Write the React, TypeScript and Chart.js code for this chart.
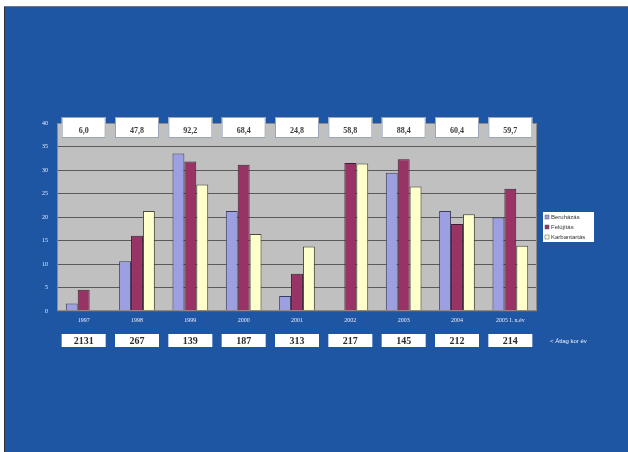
import React, { useEffect, useRef } from "react";
import { Chart, registerables } from "chart.js";

Chart.register(...registerables);

const categories = ["1997", "1998", "1999", "2000", "2001", "2002", "2003", "2004", "2005 I. n.év"];
const beruhazas = [1.6, 10.6, 33.5, 21.3, 3.2, 0, 29.4, 21.3, 19.9];
const felujitas = [4.5, 16.0, 31.8, 31.1, 7.9, 31.5, 32.3, 18.5, 26.0];
const karbantartas = [0, 21.3, 26.9, 16.4, 13.7, 31.4, 26.5, 20.6, 13.9];
const topLabels = ["6,0", "47,8", "92,2", "68,4", "24,8", "58,8", "88,4", "60,4", "59,7"];
const bottomLabels = ["2131", "267", "139", "187", "313", "217", "145", "212", "214"];
const seriesNames = ["Beruházás", "Felújítás", "Karbantartás"];
const sideLabel = "< Átlag kor év";

const W = 628;
const H = 452;

export default function App() {
  const ref = useRef<HTMLCanvasElement | null>(null);

  useEffect(() => {
    if (!ref.current) return;
    const deco = {
      id: "deco",
      beforeDraw(chart: any) {
        const ctx = chart.ctx;
        ctx.save();
        ctx.fillStyle = "#ffffff";
        ctx.fillRect(0, 0, W, H);
        ctx.fillStyle = "#1f56a4";
        ctx.fillRect(4, 6, W - 4, H - 6);
        ctx.strokeStyle = "#2a2f3a";
        ctx.lineWidth = 1;
        ctx.beginPath();
        ctx.moveTo(4.5, 6);
        ctx.lineTo(4.5, H);
        ctx.stroke();
        ctx.strokeStyle = "#6b7686";
        ctx.beginPath();
        ctx.moveTo(4, 6.5);
        ctx.lineTo(W, 6.5);
        ctx.stroke();
        const a = chart.chartArea;
        ctx.fillStyle = "#c0c0c0";
        ctx.fillRect(a.left, a.top, a.right - a.left, a.bottom - a.top);
        ctx.restore();
      },
      afterDraw(chart: any) {
        const ctx = chart.ctx;
        const a = chart.chartArea;
        const xs = chart.scales.x;
        ctx.save();
        ctx.strokeStyle = "#8a8a8a";
        ctx.lineWidth = 1;
        ctx.strokeRect(a.left + 0.5, a.top + 0.5, a.right - a.left - 1, a.bottom - a.top - 1);
        ctx.textAlign = "center";
        ctx.textBaseline = "middle";
        topLabels.forEach((t, i) => {
          const x = xs.getPixelForValue(i);
          ctx.fillStyle = "#ffffff";
          ctx.fillRect(x - 22, 117, 44, 21);
          ctx.strokeStyle = "#9aa6b8";
          ctx.strokeRect(x - 21.5, 117.5, 43, 20);
          ctx.fillStyle = "#3a3a3a";
          ctx.font = "bold 8px 'Liberation Serif'";
          ctx.fillText(t, x, 131);
        });
        bottomLabels.forEach((t, i) => {
          const x = xs.getPixelForValue(i);
          ctx.fillStyle = "#ffffff";
          ctx.fillRect(x - 22, 334, 44, 13);
          ctx.fillStyle = "#2a2a2a";
          ctx.font = "bold 10px 'Liberation Serif'";
          ctx.fillText(t, x, 341);
        });
        ctx.fillStyle = "#e8eef8";
        ctx.font = "6px 'Liberation Sans'";
        ctx.textAlign = "left";
        ctx.fillText(sideLabel, 550, 341);
        // legend
        ctx.fillStyle = "#ffffff";
        ctx.fillRect(543, 212, 51, 30);
        chart.data.datasets.forEach((ds: any, i: number) => {
          const y = 217 + i * 10;
          ctx.fillStyle = ds.backgroundColor;
          ctx.fillRect(545, y - 2, 4, 4);
          ctx.strokeStyle = "#555";
          ctx.lineWidth = 0.5;
          ctx.strokeRect(545, y - 2, 4, 4);
          ctx.fillStyle = "#333";
          ctx.font = "6px 'Liberation Sans'";
          ctx.fillText(ds.label, 551, y);
        });
        ctx.restore();
      },
    };

    const chart = new Chart(ref.current, {
      type: "bar",
      data: {
        labels: categories,
        datasets: [
          { label: seriesNames[0], data: beruhazas, backgroundColor: "#9c9fe2", borderColor: "#3c3c5a", borderWidth: 1 },
          { label: seriesNames[1], data: felujitas, backgroundColor: "#993366", borderColor: "#3a2030", borderWidth: 1 },
          { label: seriesNames[2], data: karbantartas, backgroundColor: "#ffffcc", borderColor: "#4a4a3a", borderWidth: 1 },
        ],
      },
      options: {
        responsive: false,
        animation: false,
        layout: { padding: { left: 37, right: 91, top: 123, bottom: 121 } },
        plugins: { legend: { display: false }, tooltip: { enabled: false } },
        datasets: { bar: { categoryPercentage: 0.67, barPercentage: 1.0 } },
        scales: {
          x: {
            grid: { display: false, drawTicks: false },
            border: { display: false },
            ticks: { color: "#e8eef8", font: { size: 6, family: "'Liberation Serif'" }, padding: 6, maxRotation: 0, autoSkip: false },
            afterFit: (s: any) => { s.height = 20; },
          },
          y: {
            min: 0,
            max: 40,
            grid: { color: "#5a5a5a", drawTicks: false, lineWidth: 1 },
            border: { display: false },
            ticks: { stepSize: 5, color: "#e8eef8", font: { size: 6, family: "'Liberation Serif'" }, padding: 9 },
            afterFit: (s: any) => { s.width = 20; },
          },
        },
      },
      plugins: [deco],
    });
    return () => chart.destroy();
  }, []);

  return (
    <div style={{ position: "fixed", left: 0, top: 0, width: W, height: H, background: "#fff" }}>
      <canvas ref={ref} width={W} height={H} style={{ display: "block", width: W, height: H }} />
    </div>
  );
}
